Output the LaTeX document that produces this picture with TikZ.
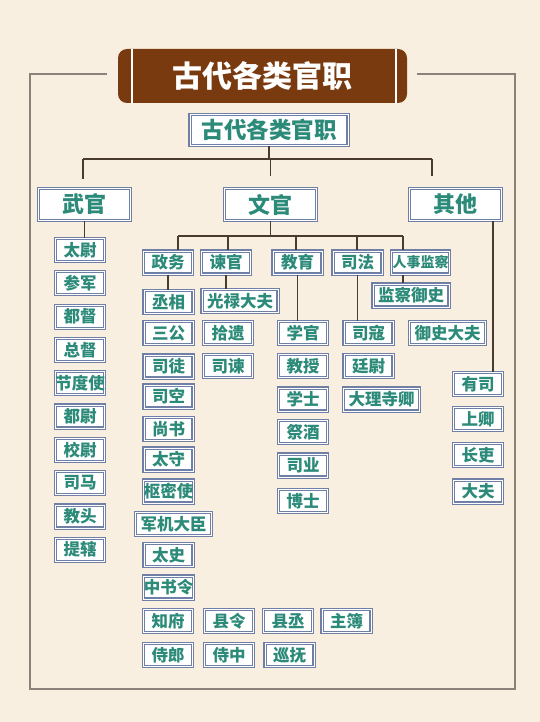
\documentclass[tikz,border=0pt]{standalone}
\usepackage{fontspec}
\newfontfamily\cjk{Noto Sans CJK SC}
\usepackage{tikz}
\usetikzlibrary{calc}

\definecolor{paper}{HTML}{F9EFE0}
\definecolor{bannerbrown}{HTML}{7A3A0F}
\definecolor{frameline}{HTML}{8C8279}
\definecolor{boxline}{HTML}{6F7FA6}
\definecolor{postteal}{HTML}{2C8A79}
\definecolor{linkcol}{HTML}{4A3B30}

\begin{document}
\begin{tikzpicture}[x=1pt, y=-1pt,
    post/.style={draw=boxline, double=white, double distance=0.8pt, line width=1.2pt,
        fill=white, text=postteal, inner sep=0pt, minimum width=49pt, minimum height=23pt,
        font=\cjk\bfseries\fontsize{16.5}{16.5}\selectfont},
    wide/.style={post, minimum width=76pt},
    head/.style={post, minimum width=92pt, minimum height=32pt,
        font=\cjk\bfseries\fontsize{22}{22}\selectfont},
    link/.style={draw=linkcol, line width=1.4pt}]
    \useasboundingbox (0,0) rectangle (540,722);
    \fill[paper] (0,0) rectangle (540,722);

    % outer frame, open where the banner sits
    \draw[frameline, line width=1.2pt] (107,74) -- (30,74) -- (30,689) -- (515,689) -- (515,74) -- (417,74);

    % banner
    \node[fill=bannerbrown, rounded corners=9pt, minimum width=289pt, minimum height=54pt, inner sep=0pt,
        text=white, font=\cjk\bfseries\fontsize{30}{30}\selectfont] (banner) at (262.5,76) {古代各类官职};
    \draw[white, line width=1.6pt] ([xshift=14pt]banner.north west) -- ([xshift=14pt]banner.south west);
    \draw[white, line width=1.6pt] ([xshift=-11pt]banner.north east) -- ([xshift=-11pt]banner.south east);

    % root and first level
    \node[head, minimum width=158pt, minimum height=31pt,
        font=\cjk\bfseries\fontsize{22.5}{22.5}\selectfont] (title) at (269,130) {古代各类官职};
    \node[head] (wuguan) at (84.5,204.5) {武官};
    \node[head] (wenguan) at (270.5,204.5) {文官};
    \node[head] (qita) at (455.5,204.5) {其他};

    \coordinate (busL) at (83,159);
    \coordinate (busR) at (432,159);
    \coordinate (wuTop) at (83,179);
    \coordinate (wenTop) at (270.5,176);
    \coordinate (qitaTop) at (432,176);
    \draw[link] (title.south) -- (title.south |- busL);
    \draw[link] (busL) -- (busR);
    \draw[link] (busL) -- (wuTop);
    \draw[link] (wenTop |- busL) -- (wenTop);
    \draw[link] (busR) -- (qitaTop);

    % military
    \foreach \txt [count=\i] in {太尉,参军,都督,总督,节度使,都尉,校尉,司马,教头,提辖}
        \node[post] (wu\i) at (80,{250+33.3*(\i-1)}) {\txt};
    \draw[link] (wuguan.south) -- (wuguan.south |- wu1.north);

    % civil, second level
    \node[post] (zhengwu) at (168,262.5) {政务};
    \node[post] (jianguan) at (226,262.5) {谏官};
    \node[post] (jiaoyu) at (297.5,262.5) {教育};
    \node[post] (sifa) at (357.5,262.5) {司法};
    \node[post, minimum width=58pt, font=\cjk\bfseries\fontsize{14}{14}\selectfont] (renshi) at (420.5,262.5) {人事监察};

    \coordinate (busW) at (178,236);
    \coordinate (busE) at (403,236);
    \draw[link] (wenguan.south) -- (wenguan.south |- busW);
    \draw[link] (busW) -- (busE);
    \foreach \n/\x in {zhengwu/178, jianguan/228, jiaoyu/296, sifa/357, renshi/403}
        \draw[link] (\x,236) -- (\n.north -| \x,0);

    % 政务
    \foreach \y/\txt [count=\i] in {302/丞相,333/三公,366.5/司徒,396.5/司空,429/尚书,459.5/太守,491.5/枢密使,555/太史,587.5/中书令}
        \node[post] (zw\i) at (168.5,\y) {\txt};
    \node[wide] (junji) at (173.5,524) {军机大臣};
    \draw[link] (zhengwu.south) -- (zhengwu.south |- zw1.north);

    % 谏官
    \node[wide] (guanglu) at (240,301) {光禄大夫};
    \node[post] (shiyi) at (228,333) {拾遗};
    \node[post] (sijian) at (228,366) {司谏};
    \draw[link] (jianguan.south) -- (jianguan.south |- guanglu.north);

    % 教育
    \foreach \y/\txt [count=\i] in {333/学官,366/教授,399.5/学士,432/祭酒,465.5/司业,501/博士}
        \node[post] (jy\i) at (303,\y) {\txt};
    \draw[link] (jiaoyu.south) -- (jiaoyu.south |- jy1.north);

    % 司法
    \node[post] (sikou) at (368.5,333) {司寇};
    \node[post] (tingwei) at (368.5,366) {廷尉};
    \node[wide] (dali) at (381.5,399.5) {大理寺卿};
    \draw[link] (sifa.south) -- (sifa.south |- sikou.north);

    % 人事监察
    \node[wide] (jiancha) at (411,295.5) {监察御史};
    \node[wide] (yushi) at (447.5,333) {御史大夫};
    \draw[link] ($(renshi.south)+(-17.5,0)$) -- ($(renshi.south |- jiancha.north)+(-17.5,0)$);

    % 其他
    \foreach \y/\txt [count=\i] in {384/有司,419/上卿,455/长吏,491.5/大夫}
        \node[post] (qt\i) at (478,\y) {\txt};
    \draw[link] ($(qita.south)+(37.5,0)$) -- ($(qita.south |- qt1.north)+(37.5,0)$);

    % local posts
    \foreach \x/\txt [count=\i] in {168/知府,229/县令,288/县丞,346.5/主簿}
        \node[post] (df\i) at (\x,621) {\txt};
    \foreach \x/\txt [count=\i] in {168/侍郎,229/侍中,289.5/巡抚}
        \node[post] (dg\i) at (\x,655) {\txt};
\end{tikzpicture}
\end{document}
